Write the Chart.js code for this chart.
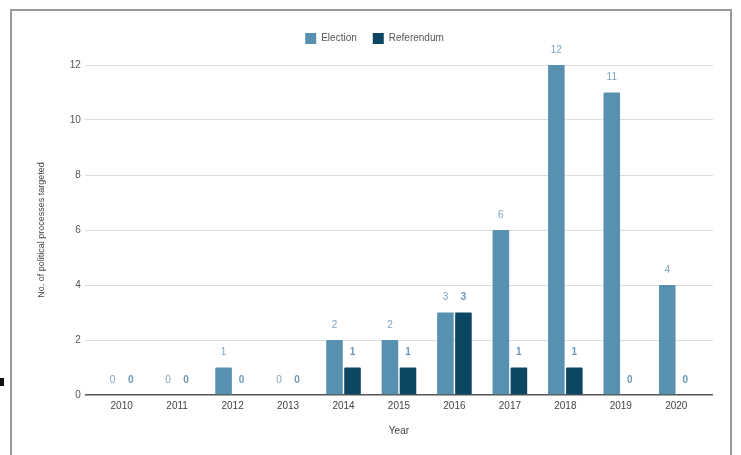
<!DOCTYPE html>
<html>
<head>
<meta charset="utf-8">
<script src="https://cdn.jsdelivr.net/npm/chart.js@4"></script>
<style>
  html, body { margin: 0; padding: 0; background: #fff; }
  #wrap { position: relative; width: 741px; height: 455px; overflow: hidden; }
  #frame { position: absolute; left: 10px; top: 9px; width: 722px; height: 470px; border: 2px solid #9a9a9a; box-sizing: border-box; }
  #mark { position: absolute; left: 0; top: 378px; width: 4px; height: 8px; background: #111; }
  canvas { position: absolute; left: 0; top: 0; }
</style>
</head>
<body>
<div id="wrap">
  <div id="frame"></div>
  <div id="mark"></div>
  <canvas id="chart" width="741" height="455"></canvas>
</div>
<script>
    const years = ['2010', '2011', '2012', '2013', '2014', '2015', '2016', '2017', '2018', '2019', '2020'];
    const election = [0, 0, 1, 0, 2, 2, 3, 6, 12, 11, 4];
    const referendum = [0, 0, 0, 0, 1, 1, 3, 1, 1, 0, 0];
    const yTicks = [0, 2, 4, 6, 8, 10, 12];

    const fontFamily = '"Liberation Sans", Arial, sans-serif';

    // little value labels over each bar
    const valueLabels = {
      id: 'valueLabels',
      afterDatasetsDraw(chart) {
        const ctx = chart.ctx;
        ctx.save();
        ctx.textAlign = 'center';
        ctx.textBaseline = 'middle';
        chart.data.datasets.forEach((ds, i) => {
          const meta = chart.getDatasetMeta(i);
          ctx.fillStyle = ds.labelColor;
          ctx.font = ds.labelFont;
          meta.data.forEach((bar, j) => {
            ctx.fillText(String(ds.data[j]), bar.x, bar.y - 15);
          });
        });
        ctx.restore();
      }
    };

    // extra room under the legend
    const legendGap = {
      id: 'legendGap',
      beforeInit(chart) {
        const fit = chart.legend.fit;
        chart.legend.fit = function () {
          fit.call(this);
          this.height += 11;
        };
      }
    };

    new Chart(document.getElementById('chart'), {
      type: 'bar',
      data: {
        labels: years,
        datasets: [{
          label: 'Election',
          data: election,
          backgroundColor: '#5890b0',
          borderRadius: 1,
          labelColor: '#7aa6c4',
          labelFont: '10px ' + fontFamily
        }, {
          label: 'Referendum',
          data: referendum,
          backgroundColor: '#0c4662',
          borderRadius: 1,
          labelColor: '#6b98b9',
          labelFont: 'bold 10px ' + fontFamily
        }]
      },
      options: {
        responsive: false,
        animation: false,
        categoryPercentage: 0.65,
        barPercentage: 0.92,
        layout: { padding: { left: 36, right: 28, top: 17, bottom: 18 } },
        plugins: {
          legend: {
            position: 'top',
            labels: {
              boxWidth: 11,
              boxHeight: 11,
              padding: 16,
              color: '#555',
              font: { family: fontFamily, size: 10 }
            }
          },
          tooltip: { enabled: false }
        },
        scales: {
          x: {
            grid: { display: false, drawTicks: false },
            border: { display: false },
            ticks: { color: '#444', padding: 5, font: { family: fontFamily, size: 10 } },
            title: { display: true, text: 'Year', color: '#444', padding: { top: 8, bottom: 0 }, font: { family: fontFamily, size: 10 } }
          },
          y: {
            min: 0,
            max: 12,
            afterBuildTicks: (axis) => { axis.ticks = yTicks.map(v => ({ value: v })); },
            grid: {
              color: (c) => c.tick && c.tick.value === 0 ? '#555' : '#dddddd',
              lineWidth: (c) => c.tick && c.tick.value === 0 ? 1.5 : 1,
              tickLength: 9
            },
            border: { display: false },
            ticks: { color: '#555', padding: 4, font: { family: fontFamily, size: 10 } },
            title: { display: true, text: 'No. of political processes targeted', color: '#444', padding: { top: 0, bottom: 19 }, font: { family: fontFamily, size: 9 } }
          },
          y2: {
            position: 'right',
            min: 0,
            max: 12,
            afterBuildTicks: (axis) => { axis.ticks = yTicks.map(v => ({ value: v })); },
            grid: {
              drawOnChartArea: false,
              color: (c) => c.tick && c.tick.value === 0 ? '#555' : '#dddddd',
              lineWidth: (c) => c.tick && c.tick.value === 0 ? 1.5 : 1,
              tickLength: 9
            },
            border: { display: false },
            ticks: { display: false }
          }
        }
      },
      plugins: [valueLabels, legendGap]
    });
</script>
</body>
</html>
